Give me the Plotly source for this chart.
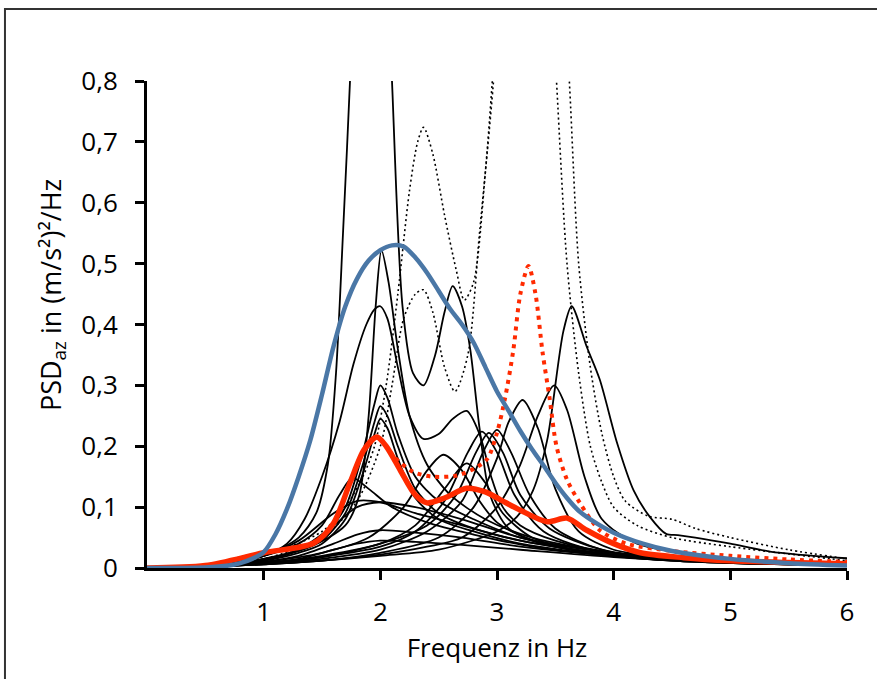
import plotly.graph_objects as go

# ---------------- data ----------------
x_ticks = [1, 2, 3, 4, 5, 6]
x_ticklabels = ["1", "2", "3", "4", "5", "6"]
y_ticks = [0, 0.1, 0.2, 0.3, 0.4, 0.5, 0.6, 0.7, 0.8]
y_ticklabels = ["0", "0,1", "0,2", "0,3", "0,4", "0,5", "0,6", "0,7", "0,8"]

# thin black solid curves (individual measurements)
s1_f = [0, 0.5, 1.0, 1.3, 1.45, 1.55, 1.62, 1.68, 1.74, 1.83, 1.92, 2.01, 2.1, 2.19, 2.28, 2.37, 2.47, 2.55, 2.62, 2.7, 2.77, 2.85, 2.94, 3.1, 3.4, 4.0, 5.0, 6.0]
s1_y = [0, 0.003, 0.02, 0.05, 0.09, 0.17, 0.32, 0.55, 0.8, 1.25, 1.5, 1.25, 0.8, 0.43, 0.32, 0.30, 0.35, 0.42, 0.463, 0.43, 0.36, 0.23, 0.12, 0.065, 0.04, 0.02, 0.01, 0.005]

s2_f = [0, 0.5, 1.0, 1.4, 1.7, 1.82, 1.9, 1.96, 2.01, 2.07, 2.15, 2.25, 2.4, 2.6, 2.9, 3.3, 4.0, 5.0, 6.0]
s2_y = [0, 0.003, 0.015, 0.035, 0.07, 0.12, 0.25, 0.43, 0.522, 0.47, 0.36, 0.25, 0.17, 0.12, 0.08, 0.05, 0.025, 0.012, 0.006]

s3_f = [0, 0.5, 1.0, 1.2, 1.35, 1.5, 1.65, 1.77, 1.88, 1.95, 2.0, 2.06, 2.15, 2.25, 2.37, 2.5, 2.62, 2.74, 2.85, 2.95, 3.05, 3.2, 3.5, 4.0, 5.0, 6.0]
s3_y = [0, 0.003, 0.02, 0.04, 0.08, 0.15, 0.24, 0.335, 0.40, 0.425, 0.43, 0.41, 0.33, 0.25, 0.212, 0.22, 0.245, 0.258, 0.22, 0.15, 0.10, 0.07, 0.045, 0.025, 0.012, 0.006]

p2_f = [0, 0.5, 1.0, 1.3, 1.5, 1.7, 1.85, 1.95, 2.0, 2.06, 2.15, 2.3, 2.5, 2.8, 3.2, 4.0, 5.0, 6.0]
s4_y = [0, 0.002, 0.015, 0.03, 0.05, 0.10, 0.19, 0.27, 0.30, 0.28, 0.22, 0.15, 0.11, 0.08, 0.05, 0.025, 0.012, 0.005]
s5_y = [0, 0.002, 0.013, 0.028, 0.045, 0.09, 0.17, 0.24, 0.266, 0.25, 0.20, 0.13, 0.09, 0.065, 0.045, 0.022, 0.010, 0.005]
s6_y = [0, 0.002, 0.012, 0.025, 0.04, 0.08, 0.155, 0.22, 0.245, 0.23, 0.18, 0.115, 0.08, 0.06, 0.04, 0.02, 0.010, 0.004]

s7_f = [0, 0.5, 1.0, 1.3, 1.5, 1.65, 1.76, 1.9, 2.1, 2.4, 2.8, 3.3, 4.0, 5.0, 6.0]
s7_y = [0, 0.003, 0.02, 0.04, 0.07, 0.12, 0.148, 0.13, 0.10, 0.075, 0.055, 0.035, 0.02, 0.01, 0.005]

low_f = [0, 0.5, 1.0, 1.3, 1.6, 1.8, 2.0, 2.3, 2.7, 3.2, 4.0, 5.0, 6.0]
s8_y = [0, 0.003, 0.02, 0.045, 0.09, 0.11, 0.108, 0.09, 0.07, 0.045, 0.022, 0.010, 0.005]
s9_y = [0, 0.002, 0.012, 0.03, 0.07, 0.10, 0.108, 0.10, 0.08, 0.05, 0.025, 0.012, 0.006]
s10_y = [0, 0.002, 0.010, 0.02, 0.04, 0.055, 0.062, 0.058, 0.05, 0.035, 0.02, 0.010, 0.005]
s11_y = [0, 0.002, 0.008, 0.015, 0.03, 0.04, 0.045, 0.043, 0.038, 0.03, 0.018, 0.009, 0.004]

s12_f = [0, 0.5, 1.0, 1.5, 1.9, 2.2, 2.4, 2.54, 2.7, 2.85, 3.0, 3.3, 3.8, 4.5, 5.2, 6.0]
s12_y = [0, 0.002, 0.010, 0.025, 0.05, 0.10, 0.16, 0.186, 0.16, 0.11, 0.075, 0.045, 0.025, 0.012, 0.007, 0.004]

s13_f = [0, 0.5, 1.0, 1.5, 2.0, 2.3, 2.55, 2.74, 2.9, 3.05, 3.3, 3.8, 4.5, 5.2, 6.0]
s13_y = [0, 0.002, 0.008, 0.02, 0.04, 0.07, 0.13, 0.172, 0.14, 0.09, 0.05, 0.025, 0.012, 0.007, 0.004]

s14_f = [0, 0.5, 1.0, 1.5, 2.0, 2.3, 2.55, 2.75, 2.87, 3.0, 3.15, 3.4, 3.9, 4.5, 5.2, 6.0]
s14_y = [0, 0.002, 0.008, 0.018, 0.035, 0.06, 0.11, 0.19, 0.224, 0.19, 0.12, 0.06, 0.025, 0.012, 0.007, 0.004]

s15_f = [0, 0.5, 1.0, 1.5, 2.0, 2.4, 2.65, 2.82, 2.93, 3.05, 3.2, 3.45, 3.9, 4.5, 5.2, 6.0]
s15_y = [0, 0.002, 0.008, 0.018, 0.04, 0.07, 0.12, 0.19, 0.222, 0.19, 0.12, 0.065, 0.03, 0.014, 0.008, 0.004]

s16_f = [0, 0.5, 1.0, 1.5, 2.0, 2.4, 2.7, 2.88, 3.0, 3.12, 3.28, 3.5, 3.9, 4.5, 5.2, 6.0]
s16_y = [0, 0.002, 0.007, 0.015, 0.03, 0.06, 0.11, 0.19, 0.227, 0.19, 0.12, 0.065, 0.03, 0.014, 0.008, 0.004]

s17_f = [0, 0.5, 1.0, 1.5, 2.0, 2.5, 2.8, 3.0, 3.1, 3.22, 3.35, 3.5, 3.7, 4.0, 4.6, 5.3, 6.0]
s17_y = [0, 0.002, 0.006, 0.012, 0.025, 0.05, 0.10, 0.18, 0.24, 0.276, 0.23, 0.13, 0.06, 0.03, 0.015, 0.008, 0.004]

s18_f = [0, 0.5, 1.0, 1.5, 2.0, 2.4, 2.7, 3.0, 3.2, 3.35, 3.49, 3.6, 3.75, 3.9, 4.2, 5.0, 6.0]
s18_y = [0, 0.002, 0.006, 0.012, 0.022, 0.035, 0.05, 0.10, 0.17, 0.25, 0.30, 0.26, 0.15, 0.08, 0.04, 0.015, 0.006]

s19_f = [0, 0.5, 1.0, 1.5, 2.0, 2.5, 3.0, 3.17, 3.31, 3.43, 3.57, 3.64, 3.77, 3.88, 4.03, 4.17, 4.31, 4.45, 4.55, 4.7, 5.0, 5.34, 6.0]
s19_y = [0, 0.002, 0.006, 0.012, 0.02, 0.03, 0.06, 0.084, 0.128, 0.21, 0.39, 0.43, 0.363, 0.31, 0.205, 0.128, 0.084, 0.056, 0.054, 0.05, 0.04, 0.027, 0.016]

# thin black dotted curves
d1_f = [0, 0.5, 1.0, 1.5, 1.7, 1.85, 1.95, 2.05, 2.15, 2.25, 2.32, 2.37, 2.45, 2.55, 2.65, 2.72, 2.8, 2.9, 2.96, 3.1, 3.3, 3.5, 3.62, 3.7, 3.8, 3.9, 4.0, 4.1, 4.3, 4.5, 4.7, 5.0, 5.5, 6.0]
d1_y = [0, 0.003, 0.02, 0.06, 0.10, 0.15, 0.20, 0.30, 0.45, 0.62, 0.70, 0.724, 0.68, 0.58, 0.49, 0.44, 0.47, 0.65, 0.8, 1.2, 1.5, 1.2, 0.8, 0.5, 0.33, 0.22, 0.15, 0.11, 0.085, 0.08, 0.065, 0.05, 0.03, 0.015]

d2_f = [0, 0.5, 1.0, 1.5, 1.8, 2.0, 2.1, 2.2, 2.3, 2.37, 2.45, 2.55, 2.64, 2.75, 2.85, 2.97, 3.1, 3.25, 3.4, 3.51, 3.6, 3.7, 3.8, 3.9, 4.0, 4.2, 4.5, 5.0, 6.0]
d2_y = [0, 0.002, 0.015, 0.05, 0.11, 0.20, 0.30, 0.41, 0.45, 0.457, 0.42, 0.33, 0.29, 0.35, 0.55, 0.8, 1.2, 1.4, 1.2, 0.8, 0.5, 0.32, 0.20, 0.14, 0.10, 0.07, 0.05, 0.035, 0.012]

# red dotted curve
rd_f = [0, 0.5, 1.0, 1.43, 1.6, 1.74, 1.86, 1.97, 2.05, 2.12, 2.28, 2.45, 2.66, 2.83, 2.92, 3.0, 3.07, 3.14, 3.2, 3.27, 3.33, 3.39, 3.45, 3.51, 3.6, 3.71, 3.88, 4.11, 4.5, 5.0, 5.5, 6.0]
rd_y = [0, 0.004, 0.025, 0.041, 0.074, 0.14, 0.194, 0.215, 0.2, 0.182, 0.158, 0.15, 0.152, 0.166, 0.18, 0.222, 0.28, 0.358, 0.45, 0.496, 0.45, 0.355, 0.28, 0.2, 0.145, 0.107, 0.062, 0.04, 0.028, 0.02, 0.014, 0.01]

# red solid (mean) curve
rs_f = [0, 0.5, 1.0, 1.43, 1.6, 1.74, 1.86, 1.97, 2.05, 2.17, 2.3, 2.4, 2.55, 2.74, 2.9, 3.03, 3.2, 3.43, 3.6, 3.77, 4.0, 4.23, 4.6, 5.0, 5.5, 6.0]
rs_y = [0, 0.004, 0.025, 0.041, 0.074, 0.14, 0.194, 0.215, 0.2, 0.161, 0.12, 0.107, 0.115, 0.131, 0.125, 0.112, 0.095, 0.076, 0.082, 0.062, 0.04, 0.025, 0.017, 0.012, 0.009, 0.007]

# blue (envelope) curve
bl_f = [0, 0.5, 0.7, 0.8, 0.9, 1.0, 1.1, 1.2, 1.3, 1.4, 1.5, 1.6, 1.7, 1.8, 1.9, 2.0, 2.1, 2.2, 2.3, 2.4, 2.5, 2.6, 2.7, 2.8, 2.9, 3.0, 3.1, 3.2, 3.3, 3.4, 3.5, 3.6, 3.7, 3.8, 4.0, 4.25, 4.5, 5.0, 5.5, 6.0]
bl_y = [0, 0.001, 0.004, 0.008, 0.015, 0.026, 0.055, 0.097, 0.15, 0.21, 0.285, 0.365, 0.43, 0.475, 0.505, 0.522, 0.53, 0.528, 0.51, 0.485, 0.455, 0.425, 0.40, 0.37, 0.33, 0.29, 0.258, 0.225, 0.195, 0.168, 0.14, 0.115, 0.094, 0.08, 0.058, 0.04, 0.028, 0.015, 0.008, 0.004]

black_solid = [(s1_f, s1_y), (s2_f, s2_y), (s3_f, s3_y), (p2_f, s4_y), (p2_f, s5_y), (p2_f, s6_y),
               (s7_f, s7_y), (low_f, s8_y), (low_f, s9_y), (low_f, s10_y), (low_f, s11_y),
               (s12_f, s12_y), (s13_f, s13_y), (s14_f, s14_y), (s15_f, s15_y), (s16_f, s16_y),
               (s17_f, s17_y), (s18_f, s18_y), (s19_f, s19_y)]
black_dotted = [(d1_f, d1_y), (d2_f, d2_y)]

RED = "#ff2a00"
BLUE = "#4a77a6"
FONT = "Open Sans"

fig = go.Figure()
for f, y in black_solid:
    fig.add_trace(go.Scatter(x=f, y=y, mode="lines", line=dict(color="black", width=1.8, shape="spline", smoothing=0.8),
                             showlegend=False, hoverinfo="skip"))
for f, y in black_dotted:
    fig.add_trace(go.Scatter(x=f, y=y, mode="lines", line=dict(color="black", width=1.6, dash="2px,3px", shape="spline", smoothing=0.8),
                             showlegend=False, hoverinfo="skip"))
fig.add_trace(go.Scatter(x=rd_f, y=rd_y, mode="lines", line=dict(color=RED, width=4, dash="4px,5px", shape="spline", smoothing=0.8),
                         showlegend=False, hoverinfo="skip"))
fig.add_trace(go.Scatter(x=rs_f, y=rs_y, mode="lines", line=dict(color=RED, width=5.5, shape="spline", smoothing=0.8),
                         showlegend=False, hoverinfo="skip"))
fig.add_trace(go.Scatter(x=bl_f, y=bl_y, mode="lines", line=dict(color=BLUE, width=4.5, shape="spline", smoothing=0.8),
                         showlegend=False, hoverinfo="skip"))

fig.update_layout(
    width=877, height=679,
    margin=dict(l=147, r=30, t=81, b=111),
    paper_bgcolor="white", plot_bgcolor="white",
    font=dict(family=FONT, size=26, color="black"),
    separators=", ",
    showlegend=False,
    xaxis=dict(range=[0, 6], tickvals=x_ticks, ticktext=x_ticklabels, showgrid=False, zeroline=False,
               showline=True, linecolor="black", linewidth=3, ticks="outside", ticklen=9, tickwidth=3,
               tickcolor="black", ticklabelstandoff=10,
               title=dict(text="Frequenz in Hz", font=dict(size=26), standoff=2)),
    yaxis=dict(range=[0, 0.8], tickvals=y_ticks, ticktext=y_ticklabels, showgrid=False, zeroline=False,
               showline=True, linecolor="black", linewidth=3, ticks="outside", ticklen=9, tickwidth=3,
               tickcolor="black", ticklabelstandoff=12),
    annotations=[dict(text="PSD<sub>az</sub> in (m/s²)²/Hz", textangle=-90, xref="paper", yref="paper",
                      x=-0.136, y=0.56, xanchor="center", yanchor="middle", showarrow=False,
                      font=dict(size=27))],
    shapes=[dict(type="rect", xref="paper", yref="paper", x0=-0.2029, y0=-0.5, x1=1.2, y1=1.1478,
                 line=dict(color="#333333", width=2), fillcolor="rgba(0,0,0,0)", layer="above")],
)

fig.write_html("out.html")
